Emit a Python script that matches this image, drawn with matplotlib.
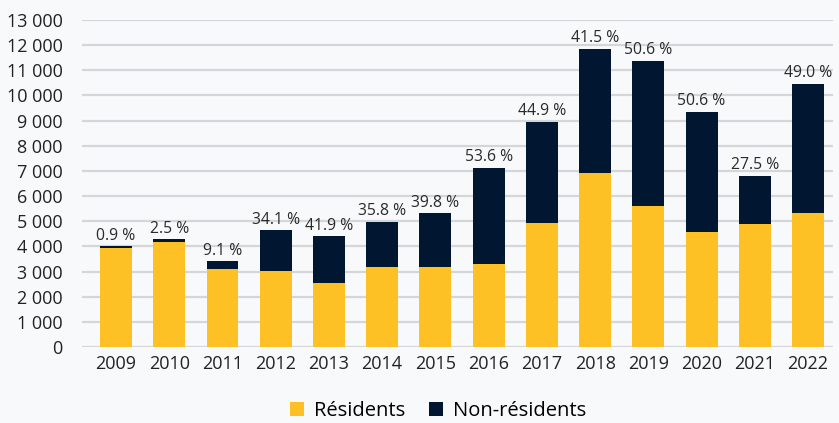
import matplotlib.pyplot as plt
from matplotlib.ticker import FuncFormatter

years = ["2009", "2010", "2011", "2012", "2013", "2014", "2015",
         "2016", "2017", "2018", "2019", "2020", "2021", "2022"]
residents = [3940, 4170, 3095, 3015, 2540, 3175, 3175,
             3295, 4925, 6920, 5605, 4570, 4890, 5325]
non_residents = [70, 120, 320, 1635, 1870, 1805, 2150,
                 3825, 4025, 4940, 5775, 4780, 1910, 5140]
shares = ["0.9 %", "2.5 %", "9.1 %", "34.1 %", "41.9 %", "35.8 %", "39.8 %",
          "53.6 %", "44.9 %", "41.5 %", "50.6 %", "50.6 %", "27.5 %", "49.0 %"]

yellow = "#fdc125"
navy = "#001631"
bg = "#f8f9fb"

plt.rcParams["font.family"] = ["Open Sans", "DejaVu Sans"]

fig = plt.figure(figsize=(8.39, 4.23), dpi=100, facecolor=bg)
ax = fig.add_axes([82 / 839, 1 - 347 / 423, (833 - 82) / 839, (347 - 20) / 423])
ax.set_facecolor(bg)

x = list(range(len(years)))
ax.bar(x, residents, width=0.6, color=yellow, label="Résidents", zorder=3)
ax.bar(x, non_residents, width=0.6, bottom=residents, color=navy,
       label="Non-résidents", zorder=3)

for i in x:
    total = residents[i] + non_residents[i]
    ax.text(i, total + 100, shares[i], ha="center", va="bottom",
            fontsize=11.3, color="#2a2a2a")

ax.set_xlim(-0.64, len(years) - 1 + 0.47)
ax.set_ylim(0, 13000)
ax.set_yticks(range(0, 13001, 1000))
ax.yaxis.set_major_formatter(FuncFormatter(lambda v, p: f"{int(v):,}".replace(",", " ")))
ax.set_xticks(x)
ax.set_xticklabels(years)
ax.tick_params(axis="both", length=0, labelsize=13, colors="#222222")
ax.tick_params(axis="x", pad=6)
ax.tick_params(axis="y", pad=14)
ax.grid(axis="y", color="#d4d6d9", linewidth=1.6, zorder=0)
for s in ax.spines.values():
    s.set_visible(False)

fig.legend(loc="center", bbox_to_anchor=(438 / 839, 1 - 411 / 423), ncol=2, frameon=False,
           fontsize=14.5, handlelength=0.7, handleheight=0.7, columnspacing=1.2,
           handletextpad=0.5)

fig.savefig("out.png", dpi=100, facecolor=bg)
